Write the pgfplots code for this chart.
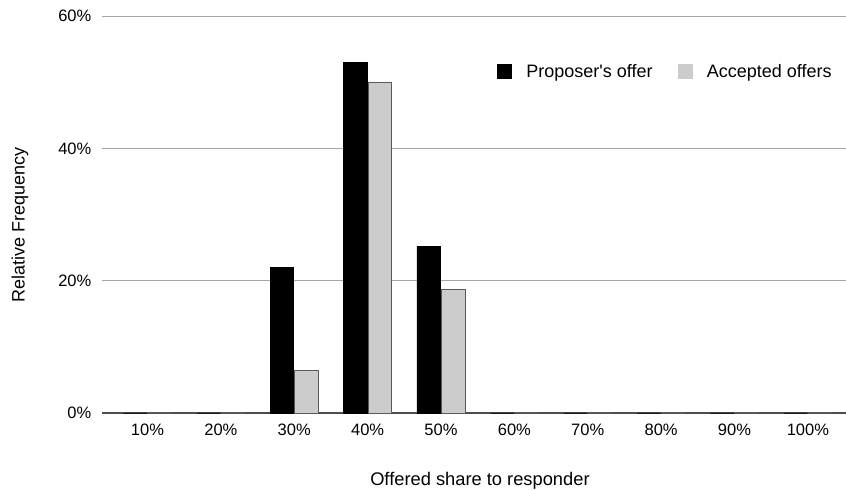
\documentclass[border=0pt]{standalone}
\usepackage{pgfplots}
\pgfplotsset{compat=1.18}
\usepackage{fontspec}
\setmainfont{Liberation Sans}
\definecolor{gridgray}{HTML}{A6A6A6}
\definecolor{axisgray}{HTML}{4D4D4D}
\definecolor{acc}{HTML}{CCCCCC}
\definecolor{accedge}{HTML}{595959}
\begin{document}
\fontsize{16.5bp}{19bp}\selectfont
\begin{tikzpicture}
\begin{axis}[
  name=ax,
  scale only axis,
  width=744bp, height=397bp,
  ymin=0, ymax=60,
  xmin=-0.62, xmax=9.52,
  ybar=1bp, bar width=23.5bp,
  xtick={0,...,9},
  xticklabels={10\%,20\%,30\%,40\%,50\%,60\%,70\%,80\%,90\%,100\%},
  ytick={0,20,40,60},
  yticklabels={0\%,20\%,40\%,60\%},
  /pgf/number format/assume math mode=true,
  major tick length=0pt,
  axis y line*=left,
  y axis line style={draw=none},
  axis x line*=bottom,
  x axis line style={axisgray, line width=1.2bp, -},
  ymajorgrids,
  grid style={gridgray, line width=0.9bp},
  xticklabel style={font=\fontsize{16.5bp}{19bp}\selectfont, yshift=-5bp},
  yticklabel style={font=\fontsize{16.5bp}{19bp}\selectfont, anchor=east, xshift=-5bp},
  xlabel={Offered share to responder},
  ylabel={Relative Frequency},
  xlabel style={font=\fontsize{18.3bp}{21bp}\selectfont, at={(axis description cs:0.508,-0.171)}, anchor=center},
  ylabel style={font=\fontsize{18bp}{21bp}\selectfont, at={(axis description cs:-0.1102,0.473)}, anchor=center},
  legend columns=2,
  legend style={draw=none, fill=none, at={(axis description cs:0.981,0.859)}, anchor=east, inner sep=0pt,
    font=\fontsize{18bp}{21bp}\selectfont,
    nodes={inner xsep=0pt},
    /tikz/every even column/.append style={column sep=25bp}},
  legend image code/.code={\fill[#1, draw=none] (0bp,-7.5bp) rectangle (15bp,7.5bp); \path (29bp,0bp);},
  clip=false,
]
\addplot[fill=black, draw=black, line width=0.8bp] coordinates {(0,0) (1,0) (2,22.0) (3,53.0) (4,25.2) (5,0) (6,0) (7,0) (8,0) (9,0)};
\addlegendentry{Proposer\textquotesingle s offer}
\addplot[fill=acc, draw=accedge, line width=0.8bp] coordinates {(0,0) (1,0) (2,6.4) (3,50.0) (4,18.7) (5,0) (6,0) (7,0) (8,0) (9,0)};
\addlegendentry{Accepted offers}
\coordinate (bl) at (rel axis cs:0,0);
\coordinate (tr) at (rel axis cs:1,1);
\end{axis}
\pgfresetboundingbox
\path[use as bounding box] ([xshift=-102bp,yshift=-77bp]bl) rectangle ([yshift=16bp]tr);
\end{tikzpicture}
\end{document}
